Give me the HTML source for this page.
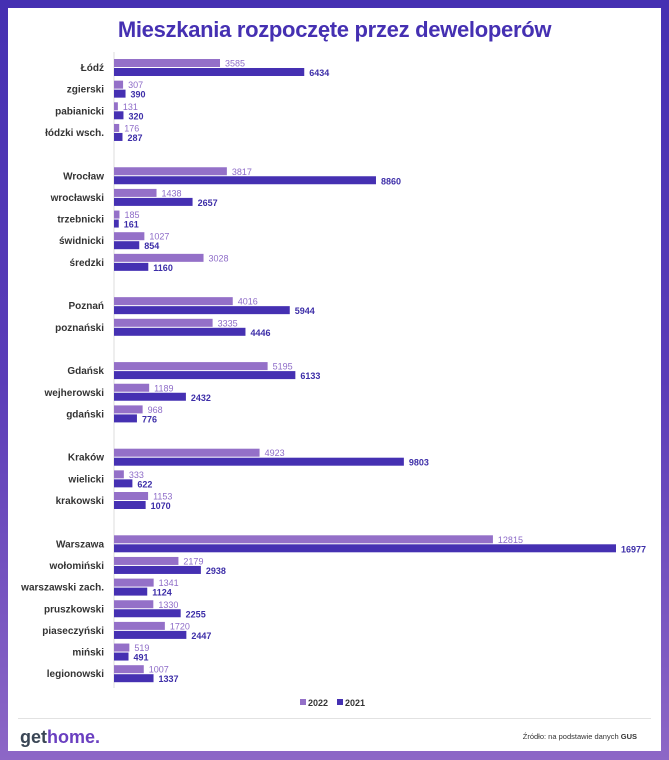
<!DOCTYPE html>
<html><head><meta charset="utf-8"><style>
body{margin:0;width:669px;height:760px;background:linear-gradient(#4530b2,#5a3cb8 50%,#8d67c6);font-family:"Liberation Sans",sans-serif;position:relative;overflow:hidden}
#panel{position:absolute;left:8px;top:8px;width:653px;height:743px;background:#fff}
h1{position:absolute;left:0;top:17px;width:669px;margin:0;text-align:center;font-size:22px;color:#4530b2;font-weight:bold;letter-spacing:-0.3px}
svg{position:absolute;left:0;top:0}
</style></head><body>
<div id="panel"></div>
<h1>Mieszkania rozpoczęte przez deweloperów</h1>
<svg id="chart" width="669" height="760"></svg>
<script>
const categories=["Łódź","zgierski","pabianicki","łódzki wsch.","Wrocław","wrocławski","trzebnicki","świdnicki","średzki","Poznań","poznański","Gdańsk","wejherowski","gdański","Kraków","wielicki","krakowski","Warszawa","wołomiński","warszawski zach.","pruszkowski","piaseczyński","miński","legionowski"];
const rowIndex=[0,1,2,3,5,6,7,8,9,11,12,14,15,16,18,19,20,22,23,24,25,26,27,28];
const values2022=[3585,307,131,176,3817,1438,185,1027,3028,4016,3335,5195,1189,968,4923,333,1153,12815,2179,1341,1330,1720,519,1007];
const values2021=[6434,390,320,287,8860,2657,161,854,1160,5944,4446,6133,2432,776,9803,622,1070,16977,2938,1124,2255,2447,491,1337];
const NS="http://www.w3.org/2000/svg";
const svg=document.getElementById('chart');
const x0=114, xMax=16977, xW=502;
const xs=v=>v/xMax*xW;
const ys=i=>59+i*21.65;
function mk(t,a){const e=document.createElementNS(NS,t);for(const k in a)e.setAttribute(k,a[k]);svg.appendChild(e);return e;}
const ax=mk('line',{x1:x0,x2:x0,y1:52,y2:688,stroke:'#ddd','stroke-width':1});


categories.forEach((c,i)=>{
  const y=ys(rowIndex[i]);
  const l=mk('text',{x:104,y:y+12,'text-anchor':'end','font-size':10,'font-weight':'bold',fill:'#333'});
  l.textContent=c;
  
  
  const b1=mk('rect',{x:x0,y:y,width:xs(values2022[i]),height:8,fill:'#9470c8'});
  
  
  const t1=mk('text',{x:x0+xs(values2022[i])+5,y:y+7.5,'font-size':9,fill:'#8e6cc8'});
  t1.textContent=values2022[i];
  
  
  const b2=mk('rect',{x:x0,y:y+9,width:xs(values2021[i]),height:8,fill:'#4530b2'});
  
  
  const t2=mk('text',{x:x0+xs(values2021[i])+5,y:y+17,'font-size':9,'font-weight':'bold',fill:'#3d2ea8'});
  t2.textContent=values2021[i];
  
  
});
</script>
<svg width="669" height="760" style="pointer-events:none">
<g font-family="Liberation Sans" font-size="9" fill="#333" font-weight="bold">
<rect x="300" y="699" width="6" height="6" fill="#9470c8"/>
<text x="308" y="706">2022</text>
<rect x="337" y="699" width="6" height="6" fill="#4530b2"/>
<text x="345" y="706">2021</text>
</g>
<line x1="18" x2="651" y1="718.5" y2="718.5" stroke="#e2e2e2"/>
<text x="20" y="743" font-family="Liberation Sans" font-size="18" font-weight="bold"><tspan fill="#3a4655">get</tspan><tspan fill="#6a3fc0">home.</tspan></text>
<text x="637" y="739" text-anchor="end" font-family="Liberation Sans" font-size="7.5" fill="#333">Źródło: na podstawie danych <tspan font-weight="bold">GUS</tspan></text>
</svg>
</body></html>
